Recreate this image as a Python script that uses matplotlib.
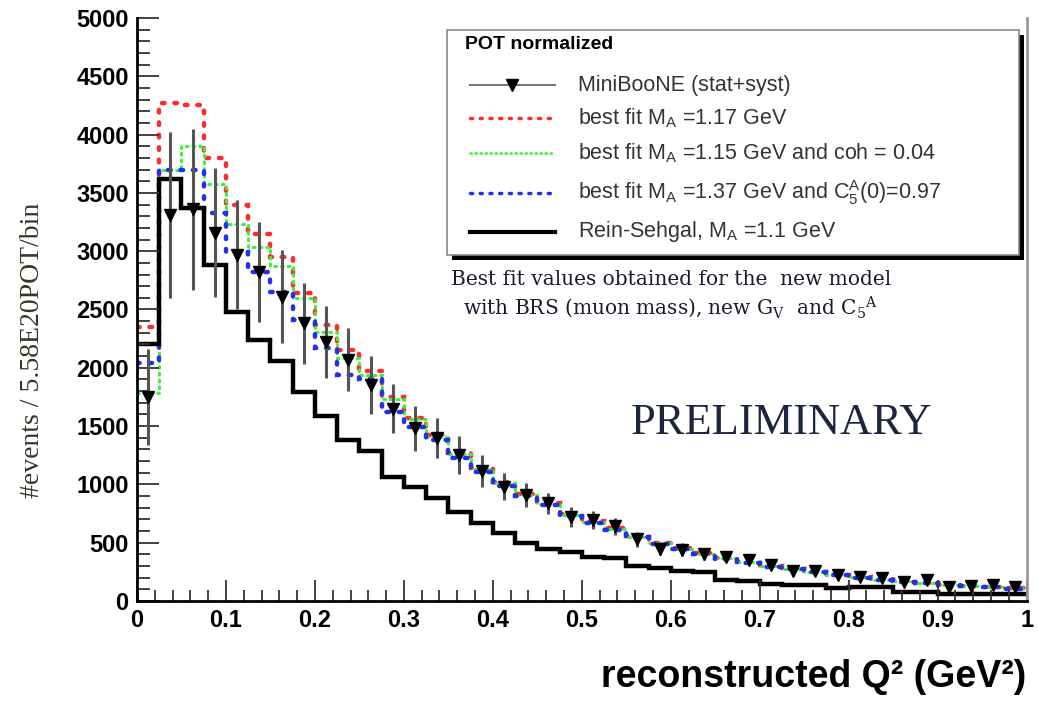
import numpy as np
import matplotlib.pyplot as plt
from matplotlib.patches import Rectangle
from matplotlib.ticker import MultipleLocator

plt.rcParams['font.family'] = ['Liberation Sans', 'DejaVu Sans']

# 40 bins of 0.025 GeV^2 in reconstructed Q^2
edges = np.linspace(0.0, 1.0, 41)
centers = 0.5 * (edges[:-1] + edges[1:])

data = [1750, 3310, 3360, 3160, 2970, 2820, 2610, 2380, 2220, 2070,
        1850, 1650, 1480, 1400, 1250, 1115, 980, 910, 840, 720,
        695, 640, 530, 450, 440, 400, 377, 352, 309, 255,
        257, 223, 206, 197, 163, 180, 120, 129, 137, 120]
data_err = [410, 710, 690, 550, 470, 430, 400, 345, 310, 270,
            250, 210, 190, 170, 165, 135, 115, 100, 90, 85,
            80, 75, 65, 60, 55, 50, 45, 45, 40, 40,
            35, 35, 35, 30, 30, 30, 25, 25, 25, 25]

fit_117 = [2350, 4270, 4250, 3800, 3400, 3150, 2950, 2640, 2370, 2150,
           1970, 1750, 1570, 1420, 1270, 1140, 1020, 920, 840, 750,
           690, 630, 560, 500, 455, 410, 370, 335, 300, 275,
           250, 225, 205, 185, 170, 155, 140, 130, 120, 110]
fit_115_coh = [1780, 3700, 3900, 3580, 3230, 3040, 2870, 2600, 2310, 2080,
               1940, 1730, 1560, 1410, 1260, 1130, 1010, 910, 830, 740,
               680, 620, 550, 495, 450, 405, 365, 330, 298, 272,
               248, 222, 202, 184, 168, 153, 139, 128, 118, 108]
fit_137_c5a = [2040, 3700, 3700, 3330, 2990, 2820, 2650, 2410, 2170, 1940,
               1900, 1620, 1490, 1380, 1230, 1110, 990, 900, 820, 730,
               670, 610, 545, 490, 445, 400, 362, 328, 295, 270,
               245, 220, 200, 182, 166, 151, 137, 126, 116, 106]
rein_sehgal = [2200, 3620, 3370, 2880, 2480, 2240, 2060, 1790, 1590, 1380,
               1290, 1060, 980, 880, 765, 670, 585, 500, 445, 420,
               378, 365, 300, 283, 255, 245, 180, 175, 145, 140,
               135, 112, 118, 118, 80, 78, 62, 60, 58, 56]

RED = '#ff2a2a'
GREEN = '#3cf03c'
BLUE = '#2030f0'

fig = plt.figure(figsize=(10.38, 7.01), dpi=100)
ax = fig.add_axes([0.132, 0.1427, 0.857, 0.8316])

ax.stairs(fit_117, edges, baseline=None, color=RED, lw=3.2,
          linestyle=(0, (0.6, 2.2)), capstyle='round')
ax.stairs(fit_115_coh, edges, baseline=None, color=GREEN, lw=2.2,
          linestyle=(0, (0.6, 1.6)), capstyle='round')
ax.stairs(fit_137_c5a, edges, baseline=None, color=BLUE, lw=3.2,
          linestyle=(0, (0.6, 2.2)), capstyle='round')
ax.stairs(rein_sehgal, edges, baseline=None, color='black', lw=3.2)
ax.errorbar(centers, data, yerr=data_err, fmt='v', color='black',
            ecolor='#555555', elinewidth=2.2, markersize=9, capsize=0,
            zorder=5)

ax.set_xlim(0, 1)
ax.set_ylim(0, 5000)
ax.xaxis.set_major_locator(MultipleLocator(0.1))
ax.xaxis.set_minor_locator(MultipleLocator(0.02))
ax.yaxis.set_major_locator(MultipleLocator(500))
ax.yaxis.set_minor_locator(MultipleLocator(100))
ax.set_xticks(np.arange(0, 1.01, 0.1))
ax.set_xticklabels(['0', '0.1', '0.2', '0.3', '0.4', '0.5',
                    '0.6', '0.7', '0.8', '0.9', '1'])
ax.tick_params(which='both', direction='in', top=False, right=False,
               labelsize=17, width=1.3, color='#333333')
ax.tick_params(axis='y', which='major', length=16, pad=6)
ax.tick_params(axis='y', which='minor', length=9)
ax.tick_params(axis='x', which='major', length=15, pad=6)
ax.tick_params(axis='x', which='minor', length=8)
for lab in ax.get_xticklabels() + ax.get_yticklabels():
    lab.set_fontweight('bold')

ax.spines['top'].set_visible(False)
ax.spines['left'].set_linewidth(2)
ax.spines['bottom'].set_linewidth(2)
ax.spines['right'].set_color('#999999')
ax.spines['right'].set_linewidth(2)

ax.set_xlabel('reconstructed Q² (GeV²)', fontsize=27, fontweight='bold')
ax.xaxis.set_label_coords(1.0, -0.1)
ax.xaxis.label.set_ha('right')
ax.set_ylabel('#events / 5.58E20POT/bin', family='Liberation Serif',
              fontsize=20, color='#3a3328')
ax.yaxis.set_label_coords(-0.104, 0.43)

# legend box, drawn by hand (ROOT style with a hard shadow)
tr = ax.transAxes
ax.add_patch(Rectangle((0.354, 0.585), 0.643, 0.386, transform=tr,
                       facecolor='black', edgecolor='none', zorder=8,
                       clip_on=False))
ax.add_patch(Rectangle((0.348, 0.593), 0.643, 0.386, transform=tr,
                       facecolor='white', edgecolor='#888888', lw=1.2,
                       zorder=9, clip_on=False))
ax.text(0.369, 0.955, 'POT normalized', transform=tr, fontsize=14,
        fontweight='bold', va='center', zorder=10)

sx = [0.374, 0.470]
rows = [0.885, 0.828, 0.768, 0.700, 0.633]
ax.plot(sx, [rows[0]] * 2, transform=tr, color='#777777', lw=1.5,
        zorder=10, clip_on=False)
ax.plot([0.422], [rows[0]], transform=tr, marker='v', color='black',
        markersize=8, zorder=11, clip_on=False)
ax.plot(sx, [rows[1]] * 2, transform=tr, color=RED, lw=2.5,
        linestyle=(0, (0.6, 2.2)), dash_capstyle='round', zorder=10)
ax.plot(sx, [rows[2]] * 2, transform=tr, color=GREEN, lw=1.8,
        linestyle=(0, (0.6, 1.4)), dash_capstyle='round', zorder=10)
ax.plot(sx, [rows[3]] * 2, transform=tr, color=BLUE, lw=2.5,
        linestyle=(0, (0.6, 2.2)), dash_capstyle='round', zorder=10)
ax.plot(sx, [rows[4]] * 2, transform=tr, color='black', lw=3,
        zorder=10)

labels = ['MiniBooNE (stat+syst)',
          r'best fit M$_\mathregular{A}$ =1.17 GeV',
          r'best fit M$_\mathregular{A}$ =1.15 GeV and coh = 0.04',
          r'best fit M$_\mathregular{A}$ =1.37 GeV and '
          r'C$_\mathregular{5}^\mathregular{A}$(0)=0.97',
          r'Rein-Sehgal, M$_\mathregular{A}$ =1.1 GeV']
for y, lab in zip(rows, labels):
    ax.text(0.4955, y, lab, transform=tr, fontsize=15.5, color='#333333',
            va='center', zorder=10)

ax.text(0.6, 0.525,
        'Best fit values obtained for the  new model\n'
        r'with BRS (muon mass), new G$_\mathregular{V}$  and '
        r'C$_\mathregular{5}$$^\mathregular{A}$',
        transform=tr, family='DejaVu Serif', fontsize=14.5, ha='center',
        va='center', color='#1a1a2e', linespacing=1.3)
ax.text(0.724, 0.305, 'PRELIMINARY', transform=tr,
        family='Liberation Serif', fontsize=32, ha='center', va='center',
        color='#1c2540')

fig.savefig('out.png', dpi=100)
